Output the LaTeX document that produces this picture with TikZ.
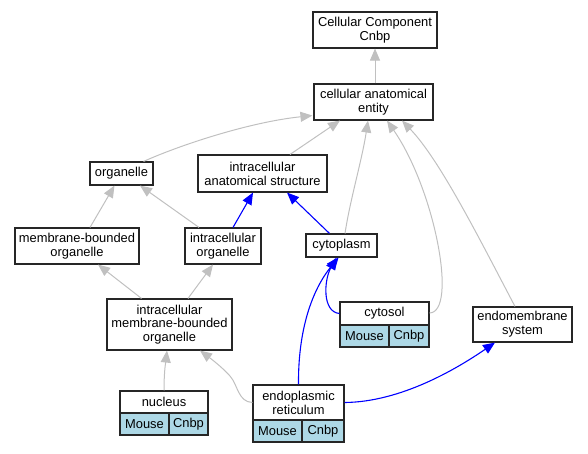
\documentclass[tikz,border=0pt]{standalone}
\usepackage{fontspec}
\setmainfont{Liberation Sans}
\usetikzlibrary{arrows.meta,calc}
\definecolor{lightbluecell}{HTML}{ADD8E6}
\definecolor{edgegray}{HTML}{C0C0C0}
\definecolor{edgeblue}{HTML}{0000FF}
\begin{document}
\begin{tikzpicture}[x=1pt,y=-1pt,
  box/.style={draw=black!85,line width=1.1pt,fill=white,inner sep=0pt,align=center,
    font=\fontsize{12.9}{13.8}\selectfont},
  cell/.style={box,fill=lightbluecell},
  gedge/.style={draw=edgegray,line width=1pt,-{Triangle[length=12pt,width=10pt]}},
  bedge/.style={draw=edgeblue,line width=1.1pt,-{Triangle[length=12pt,width=10pt]}}]
\useasboundingbox (0,0) rectangle (588,453);
% nodes
\node[box,minimum width=124pt,minimum height=36pt] (ccc) at (375,30) {Cellular Component\\Cnbp};
\node[box,minimum width=119pt,minimum height=36pt] (cae) at (373.5,102) {cellular anatomical\\entity};
\node[box,minimum width=63pt,minimum height=23pt] (org) at (121.5,173.5) {organelle};
\node[box,minimum width=129pt,minimum height=37pt] (ias) at (262.5,173.5) {intracellular\\anatomical structure};
\node[box,minimum width=124pt,minimum height=36pt] (mbo) at (77,246) {membrane-bounded\\organelle};
\node[box,minimum width=76pt,minimum height=36pt] (io) at (223,246) {intracellular\\organelle};
\node[box,minimum width=71pt,minimum height=23pt] (cyto) at (341.5,245.5) {cytoplasm};
\node[box,minimum width=89pt,minimum height=23pt] (cytosol) at (384.5,313.5) {cytosol};
\node[cell,minimum width=49pt,minimum height=22pt] (cytosolM) at (364.5,336) {Mouse};
\node[cell,minimum width=40pt,minimum height=22pt] (cytosolC) at (409,336) {Cnbp};
\node[box,minimum width=99pt,minimum height=35pt] (endo) at (522.5,324.5) {endomembrane\\system};
\node[box,minimum width=125pt,minimum height=51pt] (imbo) at (169.5,324.5) {intracellular\\membrane-bounded\\organelle};
\node[box,minimum width=88pt,minimum height=22pt] (nuc) at (164,402) {nucleus};
\node[cell,minimum width=49pt,minimum height=22pt] (nucM) at (144.5,424) {Mouse};
\node[cell,minimum width=39pt,minimum height=22pt] (nucC) at (188.5,424) {Cnbp};
\node[box,minimum width=91pt,minimum height=35pt] (er) at (298.5,402.5) {endoplasmic\\reticulum};
\node[cell,minimum width=49pt,minimum height=22pt] (erM) at (277.5,431) {Mouse};
\node[cell,minimum width=42pt,minimum height=22pt] (erC) at (323,431) {Cnbp};
% edges
\draw[gedge] (cae.north -| ccc.south) -- (ccc.south);
\draw[gedge] ($(org.north east)+(-10,0)$) .. controls (180,145) and (250,122) .. ($(cae.south west)+(-1,-5)$);
\draw[gedge] ($(ias.north)+(27.5,0)$) -- ($(cae.south)+(-33.5,0)$);
\draw[gedge] ($(cyto.north)+(3.5,0)$) .. controls (350,200) and (362,160) .. ($(cae.south)+(-5.5,0)$);
\draw[gedge] ($(cytosol.east)+(0,-0.5)$) .. controls (458,312) and (435,190) .. ($(cae.south)+(13.5,0)$);
\draw[gedge] ($(endo.north)+(-7.5,0)$) .. controls (480,240) and (440,160) .. ($(cae.south)+(28.5,0)$);
\draw[gedge] ($(mbo.north)+(13,0)$) -- ($(org.south)+(-7,0)$);
\draw[gedge] ($(io.north)+(-24,0)$) -- ($(org.south)+(18.5,0)$);
\draw[bedge] ($(io.north)+(10,0)$) -- ($(ias.south)+(-9.5,0)$);
\draw[bedge] ($(cyto.north)+(-12,0)$) -- ($(ias.south)+(24.5,0)$);
\draw[gedge] ($(imbo.north)+(-28,0)$) -- ($(mbo.south)+(21,0)$);
\draw[gedge] ($(imbo.north)+(18.5,0)$) -- ($(io.south)+(-10,0)$);
\draw[bedge] (cytosol.west) .. controls (322,312) and (324,280) .. ($(cyto.south)+(-5,0)$);
\draw[bedge] (er.north) .. controls (298,330) and (312,290) .. ($(cyto.south)+(-3,0)$);
\draw[gedge] (nuc.north) .. controls (164,370) and (166,360) .. ($(imbo.south)+(-2.5,0)$);
\draw[gedge] (er.west) .. controls (238,402) and (238,385) .. (230,376) .. controls (222,367) and (210,358) .. ($(imbo.south)+(30.5,0)$);
\draw[bedge] (er.east) .. controls (400,402) and (455,370) .. ($(endo.south)+(-27.5,0)$);
\end{tikzpicture}
\end{document}
